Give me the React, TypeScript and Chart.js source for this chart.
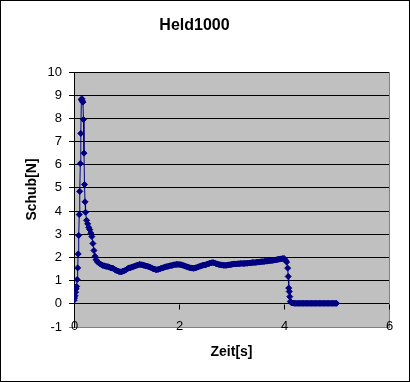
import { useEffect, useRef } from "react";
import { Chart, registerables } from "chart.js";

Chart.register(...registerables);

const TITLE = "Held1000";
const X_TITLE = "Zeit[s]";
const Y_TITLE = "Schub[N]";

const X_MIN = 0;
const X_MAX = 6;
const X_STEP = 2;
const Y_MIN = -1;
const Y_MAX = 10;
const Y_STEP = 1;

// Ignition spike
const TIME_SPIKE = [
  0.0, 0.01, 0.02, 0.03, 0.04, 0.05, 0.06, 0.07, 0.08, 0.09,
  0.1, 0.11, 0.12, 0.13, 0.14, 0.15, 0.16, 0.17, 0.18, 0.19,
  0.2, 0.21, 0.22, 0.24, 0.26, 0.28, 0.3, 0.32, 0.34, 0.36,
  0.38, 0.4, 0.42,
];
const THRUST_SPIKE = [
  0.15, 0.25, 0.35, 0.5, 0.65, 0.75, 1.05, 1.55, 2.15, 2.95,
  3.85, 4.85, 6.05, 7.35, 8.8, 8.85, 8.75, 8.7, 7.95, 6.5,
  5.15, 4.4, 3.95, 3.6, 3.45, 3.3, 3.2, 3.05, 2.9, 2.6,
  2.3, 2.05, 1.9,
];

// Sustain phase
const TIME_SUSTAIN = [
  0.45, 0.475, 0.5, 0.525, 0.55, 0.575, 0.6, 0.625, 0.65, 0.675,
  0.7, 0.725, 0.75, 0.775, 0.8, 0.825, 0.85, 0.875, 0.9, 0.925,
  0.95, 0.975, 1.0, 1.025, 1.05, 1.075, 1.1, 1.125, 1.15, 1.175,
  1.2, 1.225, 1.25, 1.275, 1.3, 1.325, 1.35, 1.375, 1.4, 1.425,
  1.45, 1.475, 1.5, 1.525, 1.55, 1.575, 1.6, 1.625, 1.65, 1.675,
  1.7, 1.725, 1.75, 1.775, 1.8, 1.825, 1.85, 1.875, 1.9, 1.925,
  1.95, 1.975, 2.0, 2.025, 2.05, 2.075, 2.1, 2.125, 2.15, 2.175,
  2.2, 2.225, 2.25, 2.275, 2.3, 2.325, 2.35, 2.375, 2.4, 2.425,
  2.45, 2.475, 2.5, 2.525, 2.55, 2.575, 2.6, 2.625, 2.65, 2.675,
  2.7, 2.725, 2.75, 2.775, 2.8, 2.825, 2.85, 2.875, 2.9, 2.925,
  2.95, 2.975, 3.0, 3.025, 3.05, 3.075, 3.1, 3.125, 3.15, 3.175,
  3.2, 3.225, 3.25, 3.275, 3.3, 3.325, 3.35, 3.375, 3.4, 3.425,
  3.45, 3.475, 3.5, 3.525, 3.55, 3.575, 3.6, 3.625, 3.65, 3.675,
  3.7, 3.725, 3.75, 3.775, 3.8, 3.825, 3.85, 3.875, 3.9, 3.925,
  3.95, 3.975, 4.0,
];
const THRUST_SUSTAIN = [
  1.8, 1.76, 1.72, 1.68, 1.65, 1.64, 1.62, 1.61, 1.6, 1.58,
  1.55, 1.54, 1.52, 1.48, 1.45, 1.42, 1.4, 1.38, 1.38, 1.4,
  1.42, 1.45, 1.48, 1.52, 1.55, 1.56, 1.58, 1.6, 1.62, 1.64,
  1.66, 1.68, 1.7, 1.69, 1.68, 1.66, 1.65, 1.63, 1.62, 1.6,
  1.58, 1.55, 1.52, 1.5, 1.48, 1.47, 1.48, 1.5, 1.52, 1.54,
  1.56, 1.58, 1.6, 1.61, 1.62, 1.64, 1.65, 1.66, 1.68, 1.69,
  1.7, 1.7, 1.7, 1.69, 1.68, 1.66, 1.64, 1.62, 1.6, 1.58,
  1.56, 1.55, 1.54, 1.53, 1.54, 1.56, 1.58, 1.6, 1.62, 1.64,
  1.66, 1.67, 1.68, 1.7, 1.72, 1.74, 1.76, 1.77, 1.78, 1.76,
  1.74, 1.72, 1.7, 1.69, 1.68, 1.67, 1.66, 1.66, 1.66, 1.67,
  1.68, 1.69, 1.7, 1.71, 1.72, 1.72, 1.72, 1.73, 1.73, 1.74,
  1.74, 1.74, 1.74, 1.75, 1.75, 1.76, 1.76, 1.77, 1.78, 1.78,
  1.78, 1.79, 1.8, 1.8, 1.81, 1.82, 1.82, 1.83, 1.84, 1.84,
  1.85, 1.86, 1.86, 1.87, 1.88, 1.89, 1.9, 1.91, 1.92, 1.93,
  1.94, 1.95, 1.96,
];

// Burn-out and tail
const TIME_TAIL = [
  4.03, 4.05, 4.07, 4.08, 4.09, 4.1, 4.11, 4.12, 4.14, 4.15,
  4.175, 4.2, 4.225, 4.25, 4.275, 4.3, 4.325, 4.35, 4.375, 4.4,
  4.425, 4.45, 4.475, 4.5, 4.525, 4.55, 4.575, 4.6, 4.625, 4.65,
  4.675, 4.7, 4.725, 4.75, 4.775, 4.8, 4.825, 4.85, 4.875, 4.9,
  4.925, 4.95, 4.975, 5.0,
];
const THRUST_TAIL = [
  1.88, 1.8, 1.54, 1.18, 0.68, 0.53, 0.31, 0.1, 0.05, 0.04,
  0.03, 0.02, 0.02, 0.02, 0.02, 0.02, 0.02, 0.02, 0.02, 0.02,
  0.02, 0.02, 0.02, 0.02, 0.02, 0.02, 0.02, 0.02, 0.02, 0.02,
  0.02, 0.02, 0.02, 0.02, 0.02, 0.02, 0.02, 0.02, 0.02, 0.02,
  0.02, 0.02, 0.02, 0.02,
];

const FONT = "'Liberation Sans', Arial, sans-serif";
const NAVY = "#000080";

const decorPlugin = {
  id: "decor",
  beforeDraw(chart: any) {
    const { ctx, chartArea: a, width, height } = chart;
    ctx.save();
    ctx.fillStyle = "#ffffff";
    ctx.fillRect(0, 0, width, height);
    ctx.fillStyle = "#C0C0C0";
    ctx.fillRect(a.left, a.top, a.right - a.left, a.bottom - a.top);
    ctx.strokeStyle = "#808080";
    ctx.lineWidth = 1;
    ctx.strokeRect(
      Math.round(a.left) + 0.5,
      Math.round(a.top) + 0.5,
      Math.round(a.right) - Math.round(a.left),
      Math.round(a.bottom) - Math.round(a.top)
    );
    ctx.restore();
  },
  afterDraw(chart: any) {
    const { ctx, width, height, scales, chartArea: a } = chart;
    const xs = scales.x;
    const ys = scales.y;
    ctx.save();
    // x-axis tick marks on the zero line
    const y0 = Math.round(ys.getPixelForValue(0)) + 0.5;
    ctx.strokeStyle = "#000000";
    ctx.lineWidth = 1;
    ctx.beginPath();
    for (const t of xs.ticks) {
      const x = Math.round(xs.getPixelForValue(t.value)) + 0.5;
      ctx.moveTo(x, y0);
      ctx.lineTo(x, y0 + 5);
    }
    ctx.stroke();
    // x-axis tick labels (straddling the bottom edge, as in the original)
    ctx.fillStyle = "#000000";
    ctx.font = `13px ${FONT}`;
    ctx.textAlign = "center";
    ctx.textBaseline = "middle";
    for (const t of xs.ticks) {
      const x = xs.getPixelForValue(t.value);
      ctx.fillText(String(t.label), x + 0.5, Math.round(a.bottom) - 0.5);
    }
    // y-axis title
    ctx.font = `bold 14px ${FONT}`;
    ctx.translate(32, (a.top + a.bottom) / 2 - 10);
    ctx.rotate(-Math.PI / 2);
    ctx.fillText(Y_TITLE, 0, 0);
    ctx.restore();
    // outer border
    ctx.save();
    ctx.strokeStyle = "#000000";
    ctx.lineWidth = 1;
    ctx.strokeRect(0.5, 0.5, width - 1, height - 1);
    ctx.restore();
  },
};

export default function App() {
  const canvasRef = useRef<HTMLCanvasElement | null>(null);

  useEffect(() => {
    const canvas = canvasRef.current;
    if (!canvas) return;
    const times = [...TIME_SPIKE, ...TIME_SUSTAIN, ...TIME_TAIL];
    const thrust = [...THRUST_SPIKE, ...THRUST_SUSTAIN, ...THRUST_TAIL];
    const points = times.map((t, i) => ({ x: t, y: thrust[i] }));
    const chart = new Chart(canvas, {
      type: "scatter",
      data: {
        datasets: [
          {
            data: points,
            showLine: true,
            borderColor: NAVY,
            borderWidth: 1,
            backgroundColor: NAVY,
            pointStyle: "rectRot",
            pointRadius: 3,
            pointBorderWidth: 1,
            pointBorderColor: NAVY,
            pointBackgroundColor: NAVY,
          },
        ],
      },
      options: {
        responsive: false,
        animation: false,
        events: [],
        layout: { padding: { top: 0, right: 21, bottom: 0, left: 0 } },
        plugins: {
          legend: { display: false },
          tooltip: { enabled: false },
          title: {
            display: true,
            text: TITLE,
            color: "#000000",
            font: { family: FONT, size: 16, weight: "bold" },
            padding: { top: 16.4, bottom: 36.4 },
          },
        },
        scales: {
          x: {
            type: "linear",
            min: X_MIN,
            max: X_MAX,
            grid: { display: false, drawTicks: false },
            border: { display: false },
            ticks: {
              stepSize: X_STEP,
              display: false,
              color: "#000000",
              font: { family: FONT, size: 13 },
            },
            title: {
              display: true,
              text: X_TITLE,
              color: "#000000",
              font: { family: FONT, size: 14, weight: "bold" },
              padding: { top: 0, bottom: 21.6 },
            },
            afterFit(scale: any) {
              scale.height = 55;
            },
          },
          y: {
            type: "linear",
            min: Y_MIN,
            max: Y_MAX,
            grid: {
              color: (c: any) =>
                c.tick && c.tick.value === Y_MIN ? "#808080" : "#000000",
              lineWidth: 1,
              tickLength: 5,
              drawTicks: true,
            },
            border: { display: true, color: "#000000", width: 1 },
            ticks: {
              stepSize: Y_STEP,
              color: "#000000",
              font: { family: FONT, size: 13 },
              padding: 7,
            },
            afterFit(scale: any) {
              scale.width = 74;
            },
          },
        },
      },
      plugins: [decorPlugin],
    });
    return () => chart.destroy();
  }, []);

  return (
    <div style={{ position: "absolute", left: 0, top: 0, width: 410, height: 382 }}>
      <canvas ref={canvasRef} width={410} height={382} style={{ display: "block" }} />
    </div>
  );
}
